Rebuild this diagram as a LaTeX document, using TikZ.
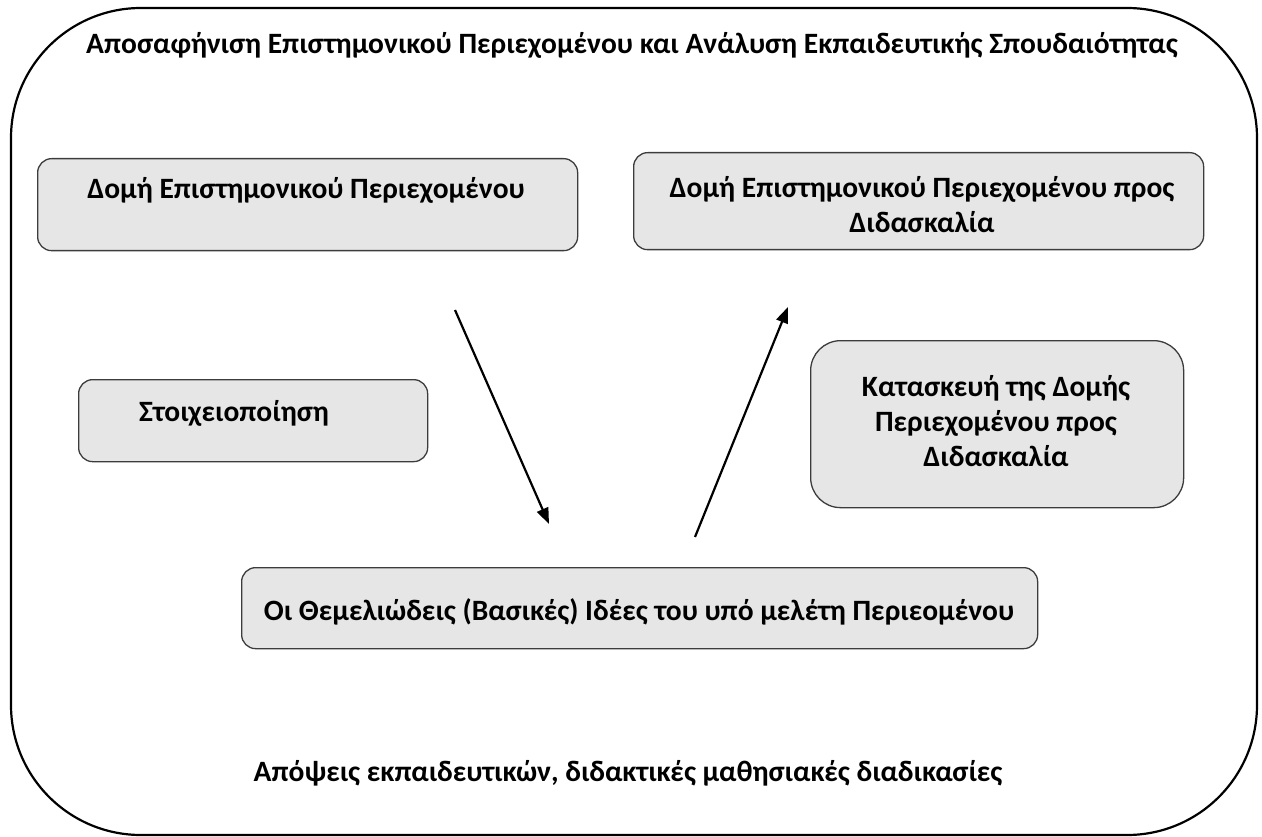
\documentclass[tikz,border=0pt]{standalone}
\usepackage{fontspec}
\setmainfont{Carlito}
\usetikzlibrary{arrows.meta,positioning}
\definecolor{SpBox}{HTML}{E6E6E6}
\definecolor{SpEdge}{HTML}{3C3C3C}

\begin{document}
\begin{tikzpicture}[x=1pt,y=-1pt,
    frame/.style={draw=black,line width=2.2pt,rounded corners=130pt},
    box/.style={draw=SpEdge,fill=SpBox,line width=1.3pt,
      rounded corners=14pt,anchor=north west,inner sep=0pt},
    txt/.style={font=\fontsize{29.5}{35}\selectfont\bfseries,align=center},
    flow/.style={-{Triangle[length=16pt,width=12pt]},line width=2.2pt}
  ]
  \useasboundingbox (0,0) rectangle (1262,837);
  \draw[frame] (11,8) rectangle (1257,835);
  \node[txt] (title) at (632,45)
    {Αποσαφήνιση Επιστημονικού Περιεχομένου και Ανάλυση Εκπαιδευτικής Σπουδαιότητας};
  % boxes
  \node[box,minimum width=540pt,minimum height=92pt] (domi) at (37,158) {};
  \node[txt] (domitext) at (306,190) {Δομή Επιστημονικού Περιεχομένου};
  \node[box,minimum width=570pt,minimum height=97pt] (didask) at (633,152) {};
  \node[txt] (didasktext) at (922,205) {Δομή Επιστημονικού Περιεχομένου προς\\Διδασκαλία};
  \node[box,minimum width=349pt,minimum height=82pt] (stoix) at (78,379) {};
  \node[txt] (stoixtext) at (234,413) {Στοιχειοποίηση};
  \node[box,rounded corners=30pt,minimum width=373pt,minimum height=167pt] (kataskevi) at (810,340) {};
  \node[txt] (kataskevitext) at (996,421) {Κατασκευή της Δομής\\Περιεχομένου προς\\Διδασκαλία};
  \node[box,minimum width=796pt,minimum height=81pt] (ideas) at (241,567) {};
  \node[txt] (ideastext) at (639,612) {Οι Θεμελιώδεις (Βασικές) Ιδέες του υπό μελέτη Περιεομένου};
  \node[txt] (apopseis) at (628,773)
    {Απόψεις εκπαιδευτικών, διδακτικές μαθησιακές διαδικασίες};
  % arrows
  \coordinate (downstart) at (455,310);
  \coordinate (downend) at (549,524);
  \coordinate (upstart) at (695,537);
  \coordinate (upend) at (788,307);
  \draw[flow] (downstart) -- (downend);
  \draw[flow] (upstart) -- (upend);
\end{tikzpicture}
\end{document}
